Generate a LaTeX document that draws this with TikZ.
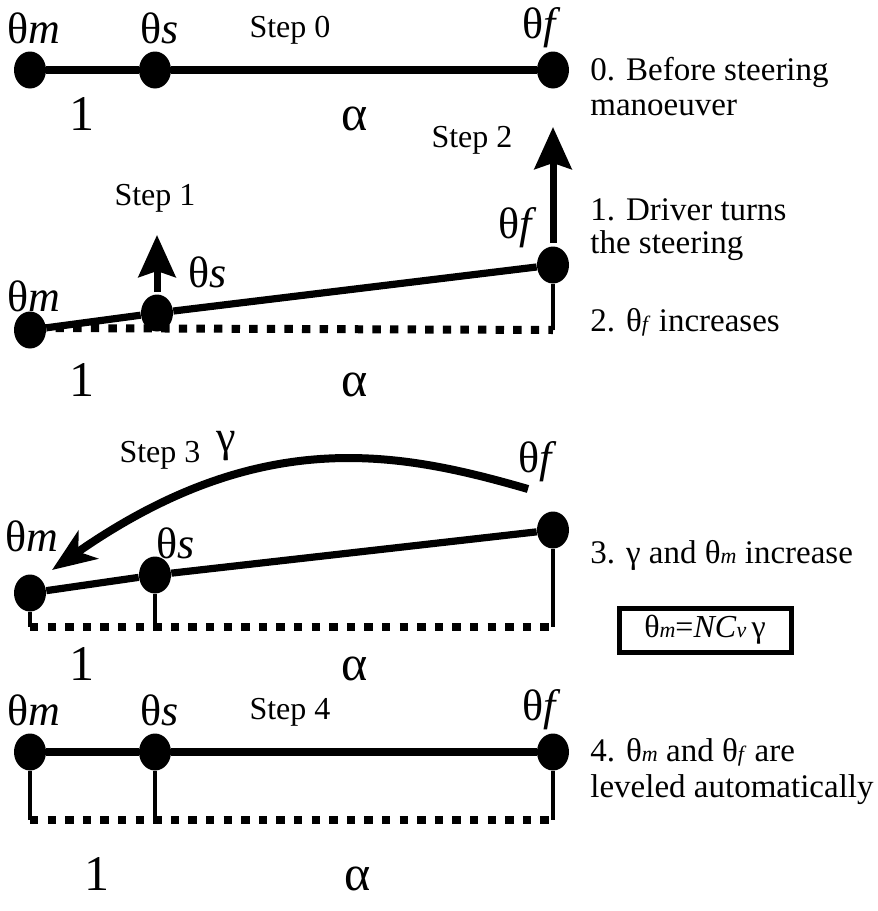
\documentclass[tikz,border=0pt]{standalone}
\usepackage{fontspec}
\setmainfont{Liberation Serif}
\usetikzlibrary{arrows.meta,shapes.geometric}

\newcommand{\lowi}[1]{{\fontsize{11}{12}\selectfont\textit{#1}}}

\tikzset{
  joint/.style={ellipse, fill=black, inner sep=0pt, minimum width=16pt, minimum height=18.5pt},
  beam/.style={line width=3.6pt},
  post/.style={line width=1.8pt},
  ground/.style={line width=4pt, dash pattern=on 4.2pt off 4.6pt},
  anglabel/.style={font=\fontsize{22}{25}\selectfont, inner sep=0pt},
  steplabel/.style={font=\fontsize{16}{19}\selectfont, inner sep=0pt},
  ratio/.style={font=\fontsize{25}{28}\selectfont, inner sep=0pt, anchor=base},
  note/.style={font=\fontsize{16.5}{19}\selectfont, anchor=west, inner sep=0pt},
  push/.style={line width=3.5pt, -{Stealth[length=21pt,width=18.5pt,inset=3pt]}},
}

\begin{document}
\begin{tikzpicture}[x=0.5pt,y=-0.5pt]
    \useasboundingbox (0,0) rectangle (878,911);

    % Step 0: rest position
    \node[joint] (m0) at (30,70) {};
    \node[joint] (s0) at (155,70) {};
    \node[joint] (f0) at (553,70) {};
    \draw[beam] (m0) -- (s0) -- (f0);

    \node[anglabel] (lm0) at (34,28) {θ\textit{m}};
    \node[anglabel] (ls0) at (160,28) {θ\textit{s}};
    \node[steplabel] (st0) at (290,30) {Step 0};
    \node[anglabel] (lf0) at (542,28) {θ\textit{f}};
    \node[ratio] (one0) at (82,130) {1};
    \node[ratio] (al0) at (355,130) {α};

    \node[note] (n0a) at (590,72) {0. Before steering};
    \node[note] (n0b) at (590,108) {manoeuver};

    % Steps 1 and 2: driver input
    \node[joint] (m1) at (30,330) {};
    \node[joint] (s1) at (157,313) {};
    \node[joint] (f1) at (553,265) {};
    \coordinate (a1) at (38,328);
    \coordinate (b1) at (553,330);
    \draw[ground] (a1) -- (b1);
    \draw[post] (f1) -- (b1);
    \draw[beam] (m1) -- (s1) -- (f1);

    \coordinate (p1) at (157,292);
    \coordinate (q1) at (157,235);
    \draw[push] (p1) -- (q1);
    \coordinate (p2) at (553,243);
    \coordinate (q2) at (553,127);
    \draw[push] (p2) -- (q2);

    \node[anglabel] (lm1) at (34,296) {θ\textit{m}};
    \node[anglabel] (ls1) at (208,272) {θ\textit{s}};
    \node[anglabel] (lf1) at (518,228) {θ\textit{f}};
    \node[steplabel] (st1) at (155,198) {Step 1};
    \node[steplabel] (st2) at (472,140) {Step 2};
    \node[ratio] (one1) at (82,396) {1};
    \node[ratio] (al1) at (355,396) {α};

    \node[note] (n1a) at (590,210) {1. Driver turns};
    \node[note] (n1b) at (590,246) {the steering};
    \node[note] (n2) at (590,322) {2. θ\lowi{f} increases};

    % Step 3: motor follows
    \node[joint] (m3) at (30,593) {};
    \node[joint] (s3) at (155,575) {};
    \node[joint] (f3) at (553,530) {};
    \coordinate (a3) at (30,627);
    \coordinate (c3) at (155,627);
    \coordinate (b3) at (553,627);
    \draw[ground] (a3) -- (b3);
    \draw[post] (m3) -- (a3);
    \draw[post] (s3) -- (c3);
    \draw[post] (f3) -- (b3);
    \draw[beam] (m3) -- (s3) -- (f3);

    \coordinate (arcstart) at (528,489);
    \coordinate (m3tip) at (52,570);
    \draw[line width=4pt, -{Stealth[length=22pt,width=17pt,inset=6pt]}]
      (arcstart) .. controls (400,452) and (261,424) .. (m3tip);

    \node[anglabel] (lm3) at (32,536) {θ\textit{m}};
    \node[anglabel] (ls3) at (176,543) {θ\textit{s}};
    \node[anglabel] (lf3) at (538,462) {θ\textit{f}};
    \node[steplabel] (st3) at (160,455) {Step 3};
    \node[anglabel] (gam) at (226,446) {γ};
    \node[ratio] (one3) at (82,680) {1};
    \node[ratio] (al3) at (355,680) {α};

    \node[note] (n3) at (590,555) {3. γ and θ\lowi{m} increase};
    \node[draw, line width=2.5pt, minimum width=86pt, minimum height=22pt,
      font=\fontsize{16}{19}\selectfont] (law) at (705,630)
      {θ\lowi{m}=\textit{NC}\lowi{v}\,γ};

    % Step 4: levelled again
    \node[joint] (m4) at (30,752) {};
    \node[joint] (s4) at (155,752) {};
    \node[joint] (f4) at (553,752) {};
    \coordinate (a4) at (30,820);
    \coordinate (c4) at (155,820);
    \coordinate (b4) at (553,820);
    \draw[ground] (a4) -- (b4);
    \draw[post] (m4) -- (a4);
    \draw[post] (s4) -- (c4);
    \draw[post] (f4) -- (b4);
    \draw[beam] (m4) -- (s4) -- (f4);

    \node[anglabel] (lm4) at (34,710) {θ\textit{m}};
    \node[anglabel] (ls4) at (160,710) {θ\textit{s}};
    \node[steplabel] (st4) at (290,712) {Step 4};
    \node[anglabel] (lf4) at (542,710) {θ\textit{f}};
    \node[ratio] (one4) at (97,890) {1};
    \node[ratio] (al4) at (358,890) {α};

    \node[note] (n4a) at (590,752) {4. θ\lowi{m} and θ\lowi{f} are};
    \node[note] (n4b) at (590,790) {leveled automatically};
\end{tikzpicture}
\end{document}
